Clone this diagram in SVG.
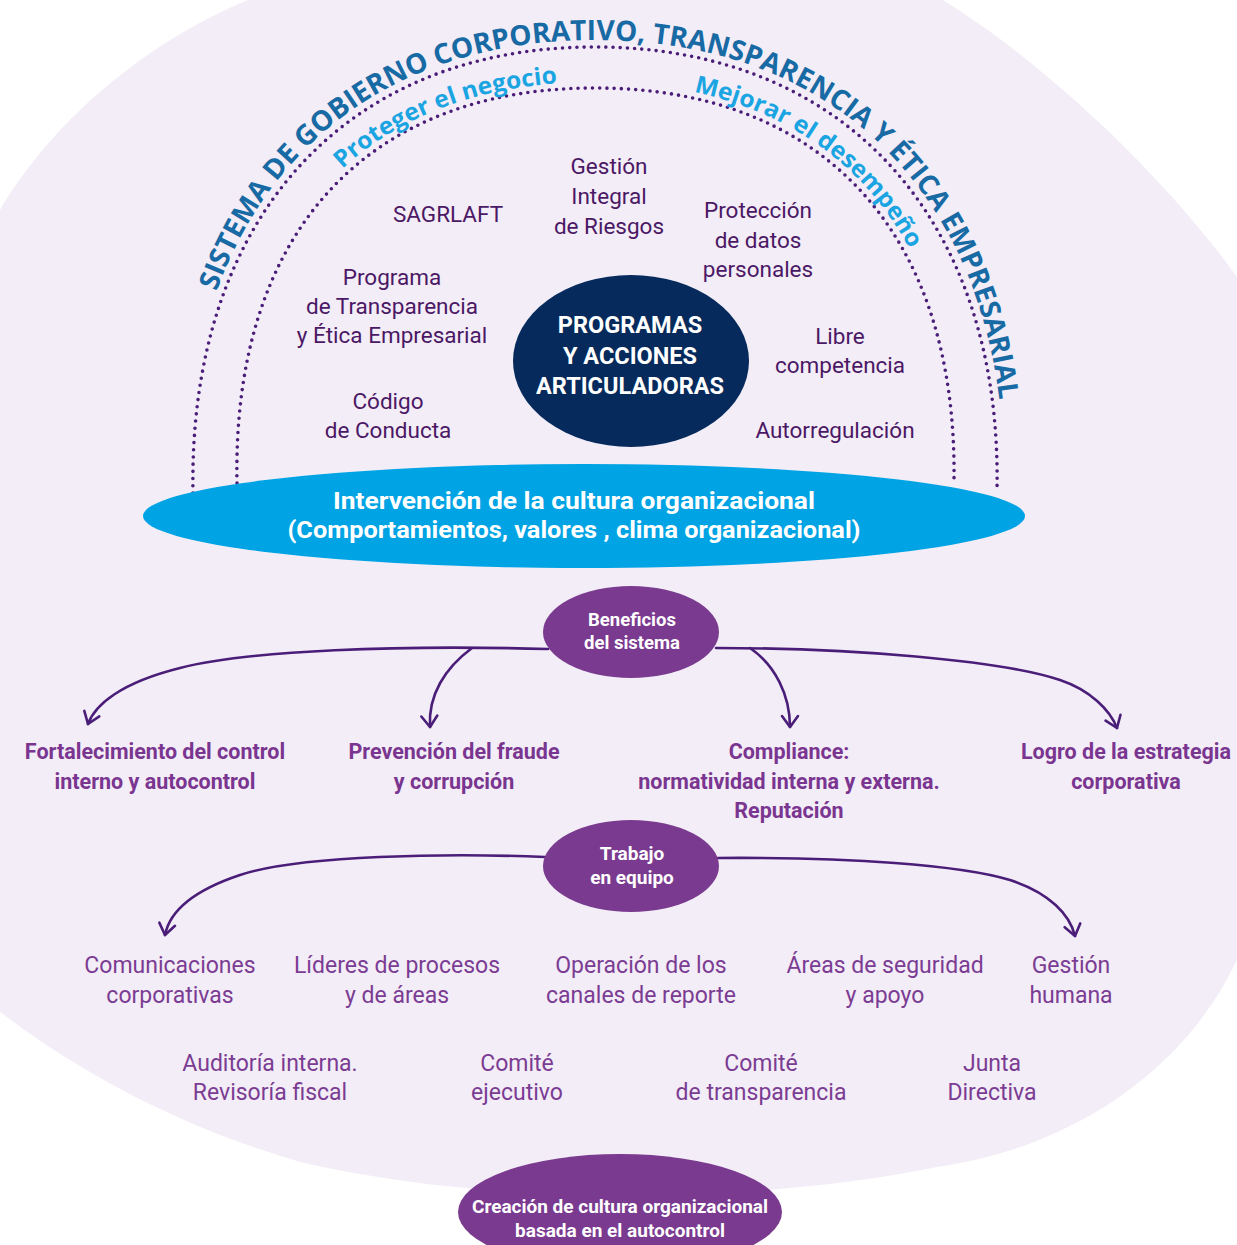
<svg xmlns="http://www.w3.org/2000/svg" xmlns:xlink="http://www.w3.org/1999/xlink" width="1237" height="1245" viewBox="0 0 1237 1245">
<defs>
<style>
.dots{fill:none;stroke:#4A1E78;stroke-width:3.6;stroke-linecap:round;stroke-dasharray:0 7.2}
.arcT{font-family:"Open Sans","Noto Sans",sans-serif;font-weight:700;fill:#176AA4;font-size:28px}
.arcC{font-family:"Open Sans","Noto Sans",sans-serif;font-weight:700;fill:#1AA5E2;font-size:24px}
.lbl{font-family:Roboto,"Liberation Sans",sans-serif;font-size:22.5px;fill:#4B1865;text-anchor:middle}
.ben{font-family:Roboto,"Liberation Sans",sans-serif;font-size:21.5px;font-weight:700;fill:#7A3590;text-anchor:middle}
.team{font-family:Roboto,"Liberation Sans",sans-serif;font-size:23px;fill:#7B3C93;text-anchor:middle}
.wt{font-family:Roboto,"Liberation Sans",sans-serif;fill:#FFFFFF;text-anchor:middle;font-weight:700}
.conn{fill:none;stroke:#4A1E78;stroke-width:2.6;stroke-linecap:round}
</style>
<marker id="arr" viewBox="-13 -10 15 20" refX="0" refY="0" markerWidth="15" markerHeight="20" markerUnits="userSpaceOnUse" orient="auto">
<path d="M -11 -8 L 0 0 L -11 8" fill="none" stroke="#4A1E78" stroke-width="2.6" stroke-linecap="round" stroke-linejoin="round"/>
</marker>
<path id="tpOuter" d="M 186,493 C 181,220 335,40 595,40 C 855,40 1009,220 1004,490"/>
<path id="tpInner" d="M 232,483 C 227,230 361,82 595,82 C 829,82 962,230 959,480"/>
</defs>

<path id="background" d="M 248,0 C 140,45 50,125 0,210 L -10,210 L -10,1012 L 0,1012 C 90,1080 190,1130 300,1162 C 400,1185 510,1195 620,1195 C 730,1195 840,1187 937,1167 C 1060,1150 1180,1080 1237,960 L 1250,960 L 1250,277 L 1237,277 C 1160,170 1040,60 943,0 Z" fill="#F3EDF7"/>

<g id="arcs">
<path class="dots" d="M 193,493 C 188,225 340,47 595,47 C 850,47 1002,225 997,490"/>
<path class="dots" d="M 237,483 C 232,235 365,88 595,88 C 825,88 957,235 954,480"/>
<text class="arcT"><textPath xlink:href="#tpOuter" href="#tpOuter" startOffset="205" textLength="1086" lengthAdjust="spacingAndGlyphs">SISTEMA DE GOBIERNO CORPORATIVO, TRANSPARENCIA Y ÉTICA EMPRESARIAL</textPath></text>
<text class="arcC"><textPath xlink:href="#tpInner" href="#tpInner" startOffset="343" textLength="236" lengthAdjust="spacingAndGlyphs">Proteger el negocio</textPath></text>
<text class="arcC"><textPath xlink:href="#tpInner" href="#tpInner" startOffset="716" textLength="276" lengthAdjust="spacingAndGlyphs">Mejorar el desempeño</textPath></text>
</g>

<g id="programas">
<text class="lbl"><tspan x="609" y="174">Gestión</tspan><tspan x="609" y="204">Integral</tspan><tspan x="609" y="234">de Riesgos</tspan></text>
<text class="lbl" x="448" y="222">SAGRLAFT</text>
<text class="lbl"><tspan x="758" y="218">Protección</tspan><tspan x="758" y="248">de datos</tspan><tspan x="758" y="277">personales</tspan></text>
<text class="lbl"><tspan x="392" y="285">Programa</tspan><tspan x="392" y="314">de Transparencia</tspan><tspan x="392" y="343">y Ética Empresarial</tspan></text>
<text class="lbl"><tspan x="840" y="344">Libre</tspan><tspan x="840" y="373">competencia</tspan></text>
<text class="lbl"><tspan x="388" y="409">Código</tspan><tspan x="388" y="438">de Conducta</tspan></text>
<text class="lbl" x="835" y="438">Autorregulación</text>
</g>

<g id="node-programas-acciones">
<ellipse cx="631" cy="361" rx="118" ry="86" fill="#052A5B"/>
<text class="wt" font-size="23.5"><tspan x="630" y="333">PROGRAMAS</tspan><tspan x="630" y="364">Y ACCIONES</tspan><tspan x="630" y="394">ARTICULADORAS</tspan></text>
</g>

<g id="node-intervencion">
<ellipse cx="584" cy="516" rx="441" ry="52" fill="#00A3E4"/>
<text class="wt" font-size="24.5"><tspan x="574" y="509" textLength="482" lengthAdjust="spacingAndGlyphs">Intervención de la cultura organizacional</tspan><tspan x="574" y="538" textLength="573" lengthAdjust="spacingAndGlyphs">(Comportamientos, valores , clima organizacional)</tspan></text>
</g>

<g id="connectors">
<path class="conn" marker-end="url(#arr)" d="M 548,649 C 400,645 250,650 180,668 C 120,683 95,705 88,724"/>
<path class="conn" marker-end="url(#arr)" d="M 472,648 C 445,668 428,695 430,727"/>
<path class="conn" marker-end="url(#arr)" d="M 716,648 C 850,648 1000,660 1060,680 C 1090,690 1110,710 1117,728"/>
<path class="conn" marker-end="url(#arr)" d="M 750,648 C 775,665 790,695 790,727"/>
<path class="conn" marker-end="url(#arr)" d="M 545,857 C 450,853 300,855 240,875 C 195,890 170,910 165,935"/>
<path class="conn" marker-end="url(#arr)" d="M 718,858 C 850,857 960,865 1010,880 C 1050,893 1070,915 1075,936"/>
</g>

<g id="node-beneficios">
<ellipse cx="631" cy="632" rx="88" ry="46" fill="#7A3A8F"/>
<text class="wt" font-size="18.5"><tspan x="632" y="626">Beneficios</tspan><tspan x="632" y="649">del sistema</tspan></text>
</g>

<g id="beneficios-labels">
<text class="ben"><tspan x="155" y="759">Fortalecimiento del control</tspan><tspan x="155" y="789">interno y autocontrol</tspan></text>
<text class="ben"><tspan x="454" y="759">Prevención del fraude</tspan><tspan x="454" y="789">y corrupción</tspan></text>
<text class="ben"><tspan x="789" y="759">Compliance:</tspan><tspan x="789" y="789">normatividad interna y externa.</tspan><tspan x="789" y="818">Reputación</tspan></text>
<text class="ben"><tspan x="1126" y="759">Logro de la estrategia</tspan><tspan x="1126" y="789">corporativa</tspan></text>
</g>

<g id="node-trabajo">
<ellipse cx="631" cy="866" rx="88" ry="46" fill="#7A3A8F"/>
<text class="wt" font-size="19"><tspan x="632" y="860">Trabajo</tspan><tspan x="632" y="884">en equipo</tspan></text>
</g>

<g id="equipo-labels">
<text class="team"><tspan x="170" y="973">Comunicaciones</tspan><tspan x="170" y="1003">corporativas</tspan></text>
<text class="team"><tspan x="397" y="973">Líderes de procesos</tspan><tspan x="397" y="1003">y de áreas</tspan></text>
<text class="team"><tspan x="641" y="973">Operación de los</tspan><tspan x="641" y="1003">canales de reporte</tspan></text>
<text class="team"><tspan x="885" y="973">Áreas de seguridad</tspan><tspan x="885" y="1003">y apoyo</tspan></text>
<text class="team"><tspan x="1071" y="973">Gestión</tspan><tspan x="1071" y="1003">humana</tspan></text>
<text class="team"><tspan x="270" y="1071">Auditoría interna.</tspan><tspan x="270" y="1100">Revisoría fiscal</tspan></text>
<text class="team"><tspan x="517" y="1071">Comité</tspan><tspan x="517" y="1100">ejecutivo</tspan></text>
<text class="team"><tspan x="761" y="1071">Comité</tspan><tspan x="761" y="1100">de transparencia</tspan></text>
<text class="team"><tspan x="992" y="1071">Junta</tspan><tspan x="992" y="1100">Directiva</tspan></text>
</g>

<g id="node-creacion">
<ellipse cx="620" cy="1212" rx="162" ry="58" fill="#7A3A8F"/>
<text class="wt" font-size="19"><tspan x="620" y="1213">Creación de cultura organizacional</tspan><tspan x="620" y="1237">basada en el autocontrol</tspan></text>
</g>
</svg>
